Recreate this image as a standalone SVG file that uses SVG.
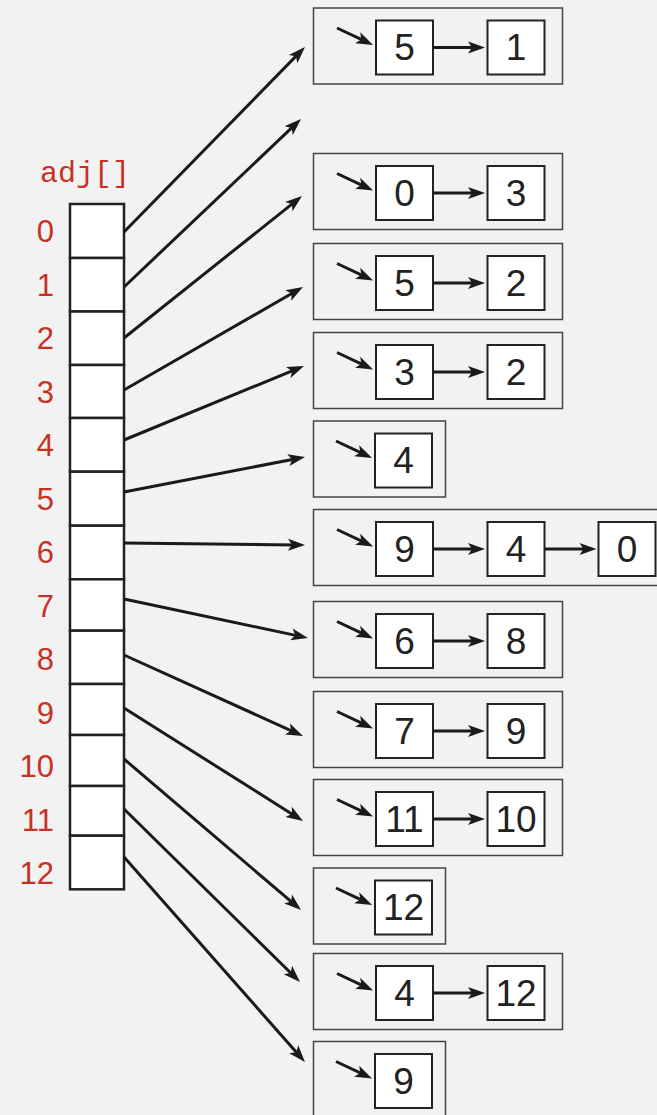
<svg xmlns="http://www.w3.org/2000/svg" width="657" height="1115" viewBox="0 0 657 1115">
<style>
.bg{fill:#f2f2f2}
.cell{fill:#fff;stroke:#222;stroke-width:2.5}
.lbl{fill:#c8311f;font-family:"Liberation Sans",Arial,sans-serif;font-size:31px;text-anchor:end}
.title{fill:#c8311f;font-family:"Liberation Mono","DejaVu Sans Mono",monospace;font-size:30px}
.box{fill:#f2f2f2;stroke:#444;stroke-width:1.5}
.node{fill:#fff;stroke:#222;stroke-width:2}
.val{fill:#222;font-family:"Liberation Sans",Arial,sans-serif;font-size:37px;text-anchor:middle}
.arr{stroke:#1a1a1a;stroke-width:3;fill:none;marker-end:url(#ah)}
</style>
<defs>
<marker id="ah" viewBox="-9 -7 19 14" refX="0" refY="0" markerWidth="19" markerHeight="14" markerUnits="userSpaceOnUse" orient="auto">
<path d="M9,0 L-8,-6 L-4,0 L-8,6 Z" fill="#1a1a1a"/>
</marker>
</defs>
<rect class="bg" x="0" y="0" width="657" height="1115"/>

<g id="adj">
<text class="title" x="40" y="182">adj[]</text>
<rect class="cell" x="70" y="204" width="54" height="54"/>
<rect class="cell" x="70" y="258" width="54" height="53.5"/>
<rect class="cell" x="70" y="311.5" width="54" height="53.5"/>
<rect class="cell" x="70" y="365" width="54" height="53"/>
<rect class="cell" x="70" y="418" width="54" height="53.7"/>
<rect class="cell" x="70" y="471.7" width="54" height="54"/>
<rect class="cell" x="70" y="525.7" width="54" height="53.6"/>
<rect class="cell" x="70" y="579.3" width="54" height="51.4"/>
<rect class="cell" x="70" y="630.7" width="54" height="53.3"/>
<rect class="cell" x="70" y="684" width="54" height="51"/>
<rect class="cell" x="70" y="735" width="54" height="51"/>
<rect class="cell" x="70" y="786" width="54" height="49.7"/>
<rect class="cell" x="70" y="835.7" width="54" height="53.6"/>
<text class="lbl" x="54" y="242">0</text>
<text class="lbl" x="54" y="295.5">1</text>
<text class="lbl" x="54" y="349">2</text>
<text class="lbl" x="54" y="402.5">3</text>
<text class="lbl" x="54" y="456">4</text>
<text class="lbl" x="54" y="509.5">5</text>
<text class="lbl" x="54" y="563">6</text>
<text class="lbl" x="54" y="616.5">7</text>
<text class="lbl" x="54" y="670">8</text>
<text class="lbl" x="54" y="723.5">9</text>
<text class="lbl" x="54" y="777">10</text>
<text class="lbl" x="54" y="830.5">11</text>
<text class="lbl" x="54" y="884">12</text>
</g>

<g id="list0">
<rect class="box" x="313.5" y="8" width="249" height="76"/>
<rect class="node" x="376" y="20.5" width="57" height="54"/><text class="val" x="404.5" y="60">5</text>
<rect class="node" x="487.5" y="20.5" width="57" height="54"/><text class="val" x="516" y="60">1</text>
</g>
<g id="list2">
<rect class="box" x="313.5" y="153.5" width="249" height="76"/>
<rect class="node" x="376" y="166" width="57" height="54"/><text class="val" x="404.5" y="205.5">0</text>
<rect class="node" x="487.5" y="166" width="57" height="54"/><text class="val" x="516" y="205.5">3</text>
</g>
<g id="list3">
<rect class="box" x="313.5" y="243.5" width="249" height="76"/>
<rect class="node" x="376" y="256" width="57" height="54"/><text class="val" x="404.5" y="295.5">5</text>
<rect class="node" x="487.5" y="256" width="57" height="54"/><text class="val" x="516" y="295.5">2</text>
</g>
<g id="list4">
<rect class="box" x="313.5" y="332.5" width="249" height="76"/>
<rect class="node" x="376" y="345" width="57" height="54"/><text class="val" x="404.5" y="384.5">3</text>
<rect class="node" x="487.5" y="345" width="57" height="54"/><text class="val" x="516" y="384.5">2</text>
</g>
<g id="list5">
<rect class="box" x="313.5" y="421" width="132" height="76"/>
<rect class="node" x="375" y="433.5" width="57" height="54"/><text class="val" x="403.5" y="473">4</text>
</g>
<g id="list6">
<rect class="box" x="313.5" y="509.5" width="350" height="76"/>
<rect class="node" x="376" y="522" width="57" height="54"/><text class="val" x="404.5" y="561.5">9</text>
<rect class="node" x="487.5" y="522" width="57" height="54"/><text class="val" x="516" y="561.5">4</text>
<rect class="node" x="598.5" y="522" width="57" height="54"/><text class="val" x="627" y="561.5">0</text>
</g>
<g id="list7">
<rect class="box" x="313.5" y="601.5" width="249" height="76"/>
<rect class="node" x="376" y="614" width="57" height="54"/><text class="val" x="404.5" y="653.5">6</text>
<rect class="node" x="487.5" y="614" width="57" height="54"/><text class="val" x="516" y="653.5">8</text>
</g>
<g id="list8">
<rect class="box" x="313.5" y="691.5" width="249" height="76"/>
<rect class="node" x="376" y="704" width="57" height="54"/><text class="val" x="404.5" y="743.5">7</text>
<rect class="node" x="487.5" y="704" width="57" height="54"/><text class="val" x="516" y="743.5">9</text>
</g>
<g id="list9">
<rect class="box" x="313.5" y="779.5" width="249" height="76"/>
<rect class="node" x="376" y="792" width="57" height="54"/><text class="val" x="404.5" y="831.5">11</text>
<rect class="node" x="487.5" y="792" width="57" height="54"/><text class="val" x="516" y="831.5">10</text>
</g>
<g id="list10">
<rect class="box" x="313.5" y="868" width="132" height="76"/>
<rect class="node" x="375" y="880.5" width="57" height="54"/><text class="val" x="403.5" y="920">12</text>
</g>
<g id="list11">
<rect class="box" x="313.5" y="953.5" width="249" height="76"/>
<rect class="node" x="376" y="966" width="57" height="54"/><text class="val" x="404.5" y="1005.5">4</text>
<rect class="node" x="487.5" y="966" width="57" height="54"/><text class="val" x="516" y="1005.5">12</text>
</g>
<g id="list12">
<rect class="box" x="313.5" y="1041.5" width="132" height="80"/>
<rect class="node" x="375" y="1054" width="57" height="54"/><text class="val" x="403.5" y="1093.5">9</text>
</g>

<g id="connectors">
<line class="arr" x1="124" y1="232" x2="298.7" y2="53.4"/>
<line class="arr" x1="124" y1="287" x2="294.5" y2="125.2"/>
<line class="arr" x1="124" y1="338" x2="295" y2="201.6"/>
<line class="arr" x1="124" y1="390" x2="295.2" y2="291.5"/>
<line class="arr" x1="124" y1="440" x2="295.7" y2="369.4"/>
<line class="arr" x1="124" y1="492" x2="296.2" y2="458.7"/>
<line class="arr" x1="124" y1="543" x2="296" y2="544.9"/>
<line class="arr" x1="124" y1="599" x2="299.2" y2="636.1"/>
<line class="arr" x1="124" y1="655" x2="294.8" y2="732.3"/>
<line class="arr" x1="124" y1="708" x2="295.4" y2="816.2"/>
<line class="arr" x1="124" y1="759" x2="294.2" y2="904.2"/>
<line class="arr" x1="124" y1="809" x2="293.6" y2="975.7"/>
<line class="arr" x1="124" y1="857" x2="299" y2="1055.3"/>

<line class="arr" x1="337" y1="28" x2="364.9" y2="41.2"/>
<line class="arr" x1="433" y1="47.5" x2="476" y2="47.5"/>
<line class="arr" x1="337" y1="173.5" x2="364.9" y2="186.7"/>
<line class="arr" x1="433" y1="193" x2="476" y2="193"/>
<line class="arr" x1="337" y1="263.5" x2="364.9" y2="276.7"/>
<line class="arr" x1="433" y1="283" x2="476" y2="283"/>
<line class="arr" x1="337" y1="352.5" x2="364.9" y2="365.7"/>
<line class="arr" x1="433" y1="372" x2="476" y2="372"/>
<line class="arr" x1="336" y1="441" x2="363.9" y2="454.2"/>
<line class="arr" x1="337" y1="529.5" x2="364.9" y2="542.7"/>
<line class="arr" x1="433" y1="549" x2="476" y2="549"/>
<line class="arr" x1="544.5" y1="549" x2="587.5" y2="549"/>
<line class="arr" x1="337" y1="621.5" x2="364.9" y2="634.7"/>
<line class="arr" x1="433" y1="641" x2="476" y2="641"/>
<line class="arr" x1="337" y1="711.5" x2="364.9" y2="724.7"/>
<line class="arr" x1="433" y1="731" x2="476" y2="731"/>
<line class="arr" x1="337" y1="799.5" x2="364.9" y2="812.7"/>
<line class="arr" x1="433" y1="819" x2="476" y2="819"/>
<line class="arr" x1="336" y1="888" x2="363.9" y2="901.2"/>
<line class="arr" x1="337" y1="973.5" x2="364.9" y2="986.7"/>
<line class="arr" x1="433" y1="993" x2="476" y2="993"/>
<line class="arr" x1="336" y1="1061.5" x2="363.9" y2="1074.7"/>
</g>
</svg>
